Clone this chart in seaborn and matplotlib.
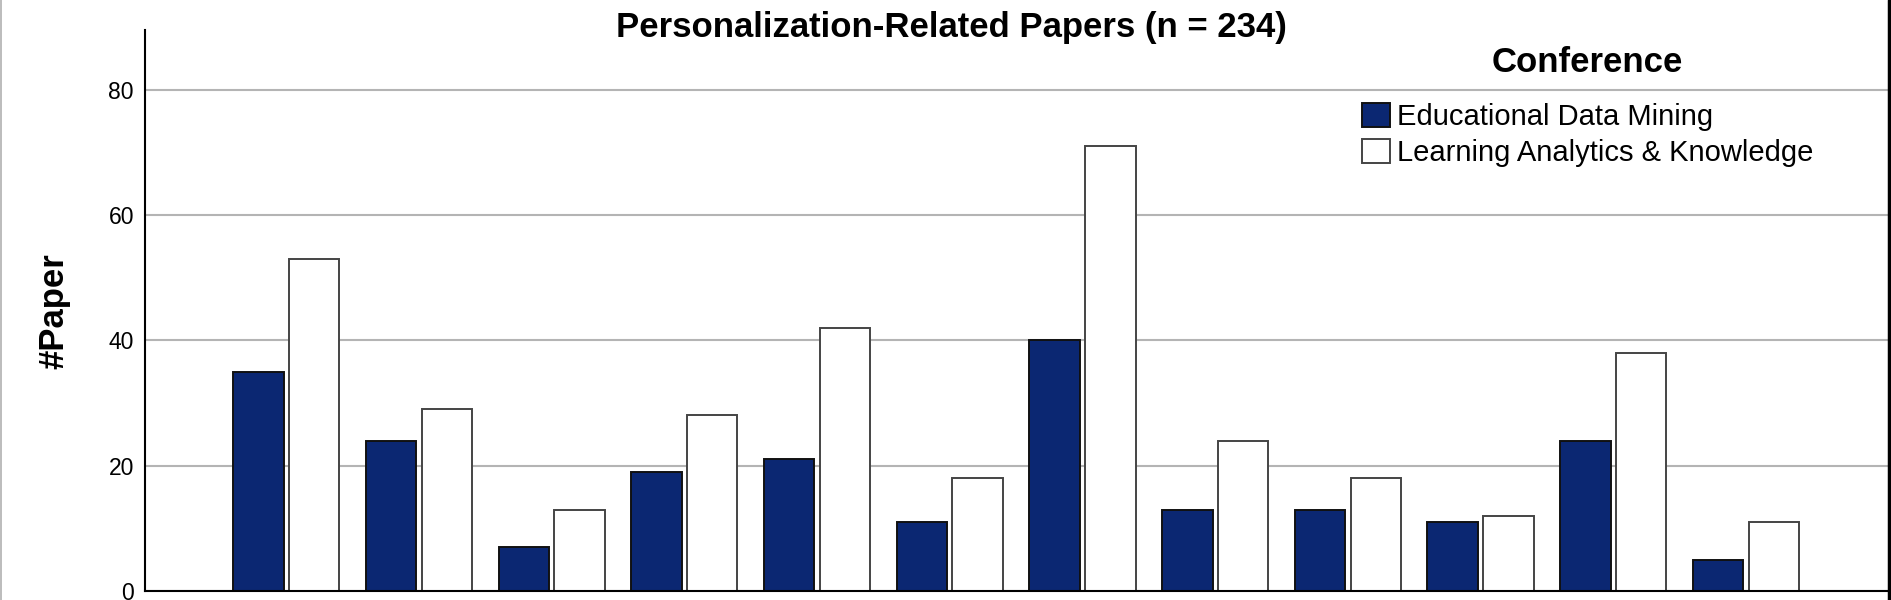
import matplotlib
matplotlib.use("Agg")
import matplotlib.pyplot as plt
from matplotlib.lines import Line2D
import seaborn as sns
import pandas as pd

# ---- data ----
groups = [str(i) for i in range(1, 13)]
conferences = ["Educational Data Mining", "Learning Analytics & Knowledge"]
edm_counts = [35, 24, 7, 19, 21, 11, 40, 13, 13, 11, 24, 5]
lak_counts = [53, 29, 13, 28, 42, 18, 71, 24, 18, 12, 38, 11]
y_ticks = [0, 20, 40, 60, 80]
title_text = "Personalization-Related Papers (n = 234)"
ylabel_text = "#Paper"
legend_title = "Conference"

df = pd.DataFrame({
    "group": groups * 2,
    "count": edm_counts + lak_counts,
    "conf": [conferences[0]] * len(groups) + [conferences[1]] * len(groups),
})

sns.set_theme(style="white")
plt.rcParams["font.family"] = ["Liberation Sans", "DejaVu Sans"]
plt.rcParams["text.color"] = "black"
plt.rcParams["ytick.color"] = "black"
plt.rcParams["xtick.color"] = "black"

W, H = 1891, 600
fig = plt.figure(figsize=(W / 100, H / 100), dpi=100)
ax = fig.add_axes([145 / W, 9 / H, (1888 - 145) / W, (600 - 30 - 9) / H])

navy = "#0b2772"
sns.barplot(data=df, x="group", y="count", hue="conf", order=groups,
            hue_order=conferences, palette=[navy, "#ffffff"], saturation=1,
            width=0.84, gap=0.095, linewidth=1.4, ax=ax, zorder=3)

edgecols = ["#111111", "#444444"]
for cont, ec in zip(ax.containers, edgecols):
    for p in cont:
        p.set_edgecolor(ec)
        p.set_linewidth(1.4)

ax.set_xlim(-1.064, 12.07)
ax.set_ylim(0, 89.5)
ax.set_yticks(y_ticks)
ax.set_yticklabels([str(t) for t in y_ticks], fontsize=16.5, color="black")
ax.set_xticks(range(len(groups)))
ax.set_xticklabels([])
ax.tick_params(axis="both", length=0, pad=8)
ax.set_xlabel("")
ax.set_ylabel("")
ax.yaxis.grid(True, color="#b4b4b4", linewidth=1.5, zorder=0)
ax.set_axisbelow(True)
for s in ["top", "right"]:
    ax.spines[s].set_visible(False)
for s in ["left", "bottom"]:
    ax.spines[s].set_color("black")
    ax.spines[s].set_linewidth(1.5)
    ax.spines[s].set_zorder(4)

# legend
handles, labels = ax.get_legend_handles_labels()
if ax.get_legend() is not None:
    ax.get_legend().remove()
for h, ec in zip(handles, edgecols):
    h.set_edgecolor(ec)
    h.set_linewidth(1.4)
fig.legend(handles, labels, loc="upper left",
           bbox_to_anchor=(1362 / W, 1 - 103 / H), bbox_transform=fig.transFigure,
           frameon=False, fontsize=21, handlelength=0.96, handleheight=0.9,
           handletextpad=0.24, labelspacing=0.27, borderpad=0, borderaxespad=0,
           labelcolor="black")
fig.text(1587 / W, 1 - 62 / H, legend_title, ha="center", va="center",
         fontsize=25, fontweight="bold", color="black")

# title and y label
fig.text(951 / W, 1 - 28 / H, title_text, ha="center", va="center",
         fontsize=25, fontweight="bold", color="black")
fig.text(54 / W, 1 - 311 / H, ylabel_text, ha="center", va="center",
         rotation=90, fontsize=25, fontweight="bold", color="black")

# figure border lines
fig.add_artist(Line2D([0.5 / W, 0.5 / W], [0, 1], transform=fig.transFigure,
                      color="#b0b0b0", lw=1.2))
fig.add_artist(Line2D([1889 / W, 1889 / W], [0, 1], transform=fig.transFigure,
                      color="black", lw=2.5))

fig.savefig("out.png", dpi=100)
